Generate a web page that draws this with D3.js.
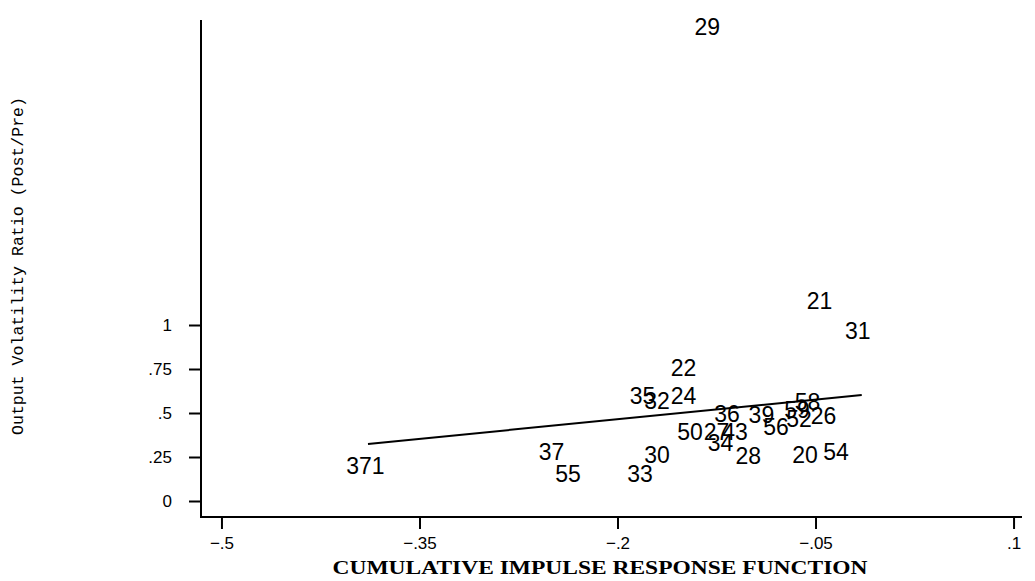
<!DOCTYPE html>
<html>
<head>
<meta charset="utf-8">
<script src="https://cdn.jsdelivr.net/npm/d3@7"></script>
<style>
  html, body { margin: 0; padding: 0; background: #fff; }
  svg { display: block; }
</style>
</head>
<body>
<svg id="chart" width="1035" height="581"></svg>
<script>
// ---- data ----
const labels = ["29","21","31","22","35","32","24","36","39","56","59","58","52","26","50","27","43","34","28","20","54","30","33","37","55","371"];
const xValues = [-0.132,-0.047,-0.018,-0.150,-0.181,-0.170,-0.150,-0.117,-0.091,-0.080,-0.064,-0.056,-0.0625,-0.044,-0.145,-0.125,-0.111,-0.122,-0.101,-0.058,-0.0345,-0.170,-0.183,-0.250,-0.2375,-0.391];
const yValues = [2.693,1.136,0.966,0.756,0.597,0.568,0.597,0.494,0.489,0.420,0.517,0.5625,0.466,0.483,0.392,0.392,0.392,0.330,0.256,0.261,0.278,0.261,0.153,0.278,0.153,0.199];
const fitX = [-0.389, -0.015];
const fitY = [0.324, 0.602];
const xTicks = [-0.5, -0.35, -0.2, -0.05, 0.1];
const xTickLabels = ["\u2212.5", "\u2212.35", "\u2212.2", "\u2212.05", ".1"];
const yTicks = [0, 0.25, 0.5, 0.75, 1];
const yTickLabels = ["0", ".25", ".5", ".75", "1"];
const xTitle = "CUMULATIVE IMPULSE RESPONSE FUNCTION";
const yTitle = "Output Volatility Ratio (Post/Pre)";

(function () {
// ---- layout ----
const svg = d3.select("#chart");
const pLeft = 201, pRight = 1022, pTop = 20, pBottom = 517;

const x = d3.scaleLinear().domain([-0.5155, 0.1064]).range([pLeft, pRight]);
const y = d3.scaleLinear().domain([-0.0909, 2.733]).range([pBottom, pTop]);

// axes
const xAxis = d3.axisBottom(x).tickValues(xTicks).tickSize(12).tickPadding(5)
  .tickFormat((d, i) => xTickLabels[i]);
const yAxis = d3.axisLeft(y).tickValues(yTicks).tickSize(12).tickPadding(17)
  .tickFormat((d, i) => yTickLabels[i]);

const gx = svg.append("g").attr("transform", `translate(0,${pBottom})`).call(xAxis);
const gy = svg.append("g").attr("transform", `translate(${pLeft},0)`).call(yAxis);

[gx, gy].forEach(g => {
  g.select(".domain").remove();
  g.selectAll(".tick line").attr("stroke", "#000").attr("stroke-width", 2);
  g.selectAll(".tick text").attr("fill", "#000")
    .style("font-family", "'Liberation Sans', Arial, sans-serif")
    .style("font-size", "17px");
});
gx.selectAll(".tick text").attr("dy", "0.9em");

// axis lines
svg.append("line").attr("x1", pLeft).attr("x2", pLeft).attr("y1", pTop).attr("y2", pBottom + 1)
  .attr("stroke", "#000").attr("stroke-width", 2);
svg.append("line").attr("x1", pLeft - 1).attr("x2", pRight).attr("y1", pBottom).attr("y2", pBottom)
  .attr("stroke", "#000").attr("stroke-width", 2);

// fitted line
svg.append("line")
  .attr("x1", x(fitX[0])).attr("y1", y(fitY[0]))
  .attr("x2", x(fitX[1])).attr("y2", y(fitY[1]))
  .attr("stroke", "#000").attr("stroke-width", 2);

// point labels (centered on points)
svg.append("g").selectAll("text").data(labels).join("text")
  .attr("x", (d, i) => x(xValues[i]))
  .attr("y", (d, i) => y(yValues[i]))
  .attr("dy", "0.36em")
  .attr("text-anchor", "middle")
  .style("font-family", "'Liberation Sans', Arial, sans-serif")
  .style("font-size", "23px")
  .attr("fill", "#000")
  .text(d => d);

// titles
svg.append("text")
  .attr("x", 600).attr("y", 574)
  .attr("text-anchor", "middle")
  .attr("textLength", 535).attr("lengthAdjust", "spacingAndGlyphs")
  .style("font-family", "'Liberation Serif', 'DejaVu Serif', serif")
  .style("font-size", "18px").style("font-weight", "bold")
  .attr("fill", "#000")
  .text(xTitle);

svg.append("text")
  .attr("transform", "translate(23,266) rotate(-90)")
  .attr("text-anchor", "middle")
  .attr("textLength", 338).attr("lengthAdjust", "spacingAndGlyphs")
  .style("font-family", "'Liberation Mono', 'Courier New', monospace")
  .style("font-size", "17px")
  .attr("fill", "#000")
  .text(yTitle);
})();
</script>
</body>
</html>
